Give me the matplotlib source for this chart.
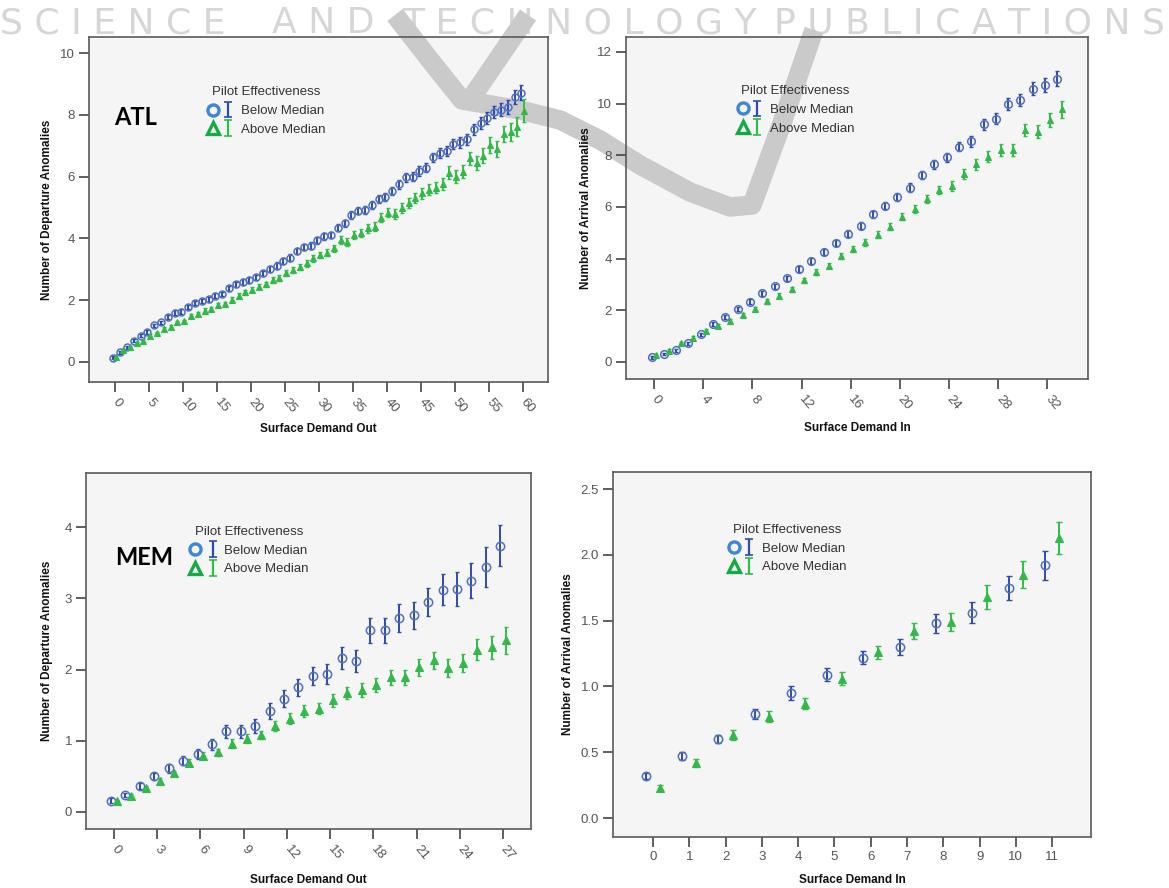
import numpy as np
import matplotlib.pyplot as plt
from matplotlib.lines import Line2D
from matplotlib.legend_handler import HandlerTuple, HandlerErrorbar
from matplotlib.container import ErrorbarContainer

plt.rcParams['font.family'] = ['Liberation Sans', 'DejaVu Sans']

W, H = 1169, 888

# ---- ATL, departures (Surface Demand Out) ----
atl_out_x = np.arange(61)
atl_out_below = [0.14, 0.31, 0.48, 0.68, 0.85, 0.98, 1.18, 1.28, 1.45, 1.60,
                 1.63, 1.77, 1.90, 1.98, 2.03, 2.15, 2.20, 2.38, 2.51, 2.58,
                 2.65, 2.74, 2.87, 3.01, 3.12, 3.26, 3.38, 3.59, 3.71, 3.76,
                 3.94, 4.07, 4.11, 4.35, 4.49, 4.76, 4.90, 4.92, 5.08, 5.27,
                 5.33, 5.53, 5.75, 5.98, 6.00, 6.18, 6.29, 6.62, 6.75, 6.83,
                 7.05, 7.11, 7.21, 7.53, 7.74, 7.89, 8.10, 8.16, 8.26, 8.57, 8.72]
atl_out_below_err = [0.04, 0.04, 0.05, 0.05, 0.05, 0.06, 0.06, 0.06, 0.06, 0.07,
                     0.07, 0.07, 0.07, 0.07, 0.08, 0.08, 0.08, 0.08, 0.08, 0.09,
                     0.09, 0.09, 0.09, 0.09, 0.10, 0.10, 0.10, 0.10, 0.10, 0.11,
                     0.11, 0.11, 0.11, 0.12, 0.12, 0.12, 0.12, 0.12, 0.13, 0.13,
                     0.13, 0.13, 0.14, 0.14, 0.14, 0.15, 0.15, 0.15, 0.16, 0.16,
                     0.17, 0.17, 0.18, 0.18, 0.19, 0.20, 0.20, 0.21, 0.22, 0.23, 0.25]
atl_out_above = [0.17, 0.37, 0.48, 0.60, 0.69, 0.84, 0.93, 1.06, 1.12, 1.28,
                 1.31, 1.49, 1.55, 1.66, 1.72, 1.84, 1.87, 2.01, 2.15, 2.25,
                 2.33, 2.44, 2.51, 2.65, 2.71, 2.87, 2.98, 3.08, 3.19, 3.36,
                 3.46, 3.54, 3.68, 3.95, 3.89, 4.11, 4.17, 4.33, 4.38, 4.67,
                 4.83, 4.79, 4.97, 5.14, 5.30, 5.46, 5.57, 5.64, 5.76, 6.13,
                 6.00, 6.16, 6.59, 6.45, 6.67, 7.02, 6.88, 7.38, 7.45, 7.62, 8.13]
atl_out_above_err = [0.04, 0.04, 0.04, 0.05, 0.05, 0.05, 0.05, 0.06, 0.06, 0.06,
                     0.06, 0.06, 0.07, 0.07, 0.07, 0.07, 0.07, 0.08, 0.08, 0.08,
                     0.08, 0.09, 0.09, 0.09, 0.09, 0.10, 0.10, 0.10, 0.11, 0.11,
                     0.11, 0.12, 0.12, 0.12, 0.13, 0.13, 0.13, 0.14, 0.14, 0.15,
                     0.15, 0.15, 0.16, 0.16, 0.17, 0.17, 0.18, 0.18, 0.19, 0.20,
                     0.20, 0.21, 0.22, 0.23, 0.24, 0.25, 0.26, 0.27, 0.29, 0.31, 0.37]

# ---- ATL, arrivals (Surface Demand In) ----
atl_in_x = np.arange(34)
atl_in_below = [0.18, 0.31, 0.46, 0.72, 1.07, 1.46, 1.75, 2.06, 2.33, 2.66,
                2.93, 3.24, 3.59, 3.90, 4.26, 4.61, 4.97, 5.27, 5.72, 6.05,
                6.40, 6.75, 7.24, 7.65, 7.92, 8.34, 8.54, 9.20, 9.42, 9.97,
                10.14, 10.57, 10.72, 10.96]
atl_in_below_err = [0.05, 0.05, 0.06, 0.06, 0.07, 0.07, 0.08, 0.08, 0.09, 0.09,
                    0.10, 0.10, 0.11, 0.11, 0.12, 0.12, 0.13, 0.13, 0.14, 0.14,
                    0.15, 0.16, 0.16, 0.17, 0.18, 0.19, 0.20, 0.21, 0.22, 0.23,
                    0.24, 0.25, 0.27, 0.29]
atl_in_above = [0.25, 0.44, 0.72, 0.94, 1.21, 1.41, 1.59, 1.83, 2.06, 2.35,
                2.57, 2.81, 3.16, 3.47, 3.73, 4.09, 4.36, 4.63, 4.93, 5.24,
                5.63, 5.91, 6.30, 6.66, 6.81, 7.28, 7.65, 7.94, 8.21, 8.21,
                8.98, 8.92, 9.37, 9.78]
atl_in_above_err = [0.04, 0.05, 0.05, 0.06, 0.06, 0.07, 0.07, 0.08, 0.08, 0.09,
                    0.09, 0.10, 0.10, 0.11, 0.11, 0.12, 0.12, 0.13, 0.13, 0.14,
                    0.15, 0.15, 0.16, 0.17, 0.18, 0.19, 0.20, 0.21, 0.22, 0.23,
                    0.25, 0.26, 0.28, 0.32]

# ---- MEM, departures ----
mem_out_x = np.arange(28)
mem_out_below = [0.16, 0.24, 0.36, 0.50, 0.61, 0.72, 0.82, 0.95, 1.13, 1.13,
                 1.21, 1.42, 1.59, 1.75, 1.91, 1.94, 2.16, 2.12, 2.55, 2.55,
                 2.72, 2.76, 2.95, 3.12, 3.13, 3.25, 3.44, 3.74]
mem_out_below_err = [0.03, 0.03, 0.04, 0.05, 0.06, 0.06, 0.07, 0.08, 0.09, 0.09,
                     0.10, 0.11, 0.12, 0.12, 0.13, 0.14, 0.15, 0.15, 0.18, 0.18,
                     0.20, 0.19, 0.20, 0.22, 0.24, 0.24, 0.28, 0.29]
mem_out_above = [0.15, 0.22, 0.33, 0.44, 0.54, 0.69, 0.79, 0.84, 0.96, 1.03,
                 1.08, 1.20, 1.31, 1.42, 1.45, 1.57, 1.67, 1.71, 1.78, 1.89,
                 1.89, 2.03, 2.13, 2.02, 2.09, 2.28, 2.31, 2.41]
mem_out_above_err = [0.02, 0.03, 0.03, 0.04, 0.04, 0.05, 0.05, 0.05, 0.06, 0.06,
                     0.06, 0.07, 0.08, 0.08, 0.08, 0.09, 0.09, 0.10, 0.10, 0.11,
                     0.11, 0.12, 0.12, 0.13, 0.13, 0.15, 0.16, 0.19]

# ---- MEM, arrivals ----
mem_in_x = np.arange(12)
mem_in_below = [0.32, 0.47, 0.60, 0.79, 0.95, 1.09, 1.22, 1.30, 1.48, 1.56, 1.75, 1.92]
mem_in_below_err = [0.02, 0.03, 0.03, 0.04, 0.05, 0.05, 0.05, 0.06, 0.07, 0.08, 0.09, 0.11]
mem_in_above = [0.23, 0.42, 0.63, 0.77, 0.87, 1.06, 1.26, 1.42, 1.49, 1.68, 1.85, 2.13]
mem_in_above_err = [0.02, 0.03, 0.04, 0.04, 0.04, 0.05, 0.05, 0.06, 0.07, 0.09, 0.10, 0.12]

watermark_words = ['SCIENCE', 'AND', 'TECHNOLOGY', 'PUBLICATIONS']

BLUE_PT = '#4f6fc6'
BLUE_BAR = '#2f4cad'
GREEN_PT = '#34b84a'
GREEN_BAR = '#2fbe47'
LEG_BLUE = '#3f86d8'
LEG_GREEN = '#16aa45'
TICK_GREY = '#555555'


def px_box(left, top, right, bottom):
    return [left / W, 1 - bottom / H, (right - left) / W, (bottom - top) / H]


def panel(ax, x, below, below_err, above, above_err, xlim, ylim, xticks, yticks,
          xlabel, ylabel, rotate, yfmt, ms, cap, leg_anchor, xlab_y, ylab_x, hpad=0.1):
    x = np.asarray(x)
    ax.set_facecolor('#f5f5f5')
    ax.errorbar(x - 0.2, below, yerr=below_err, fmt='none', ecolor=BLUE_BAR,
                elinewidth=1.4, capsize=cap, capthick=1.0, zorder=3)
    ax.plot(x - 0.2, below, ls='none', marker='o', ms=ms, mfc='none', mec=BLUE_PT,
            mew=1.1, zorder=4)
    ax.errorbar(x + 0.2, above, yerr=above_err, fmt='none', ecolor=GREEN_BAR,
                elinewidth=1.4, capsize=cap, capthick=1.0, zorder=3)
    ax.plot(x + 0.2, above, ls='none', marker='^', ms=ms * 0.9, mfc=GREEN_PT,
            mec=GREEN_PT, mew=0.8, zorder=4)

    # legend-only error bar glyphs (nothing drawn in the plot area)
    leg_eb_b = ax.errorbar([np.nan], [np.nan], yerr=[np.nan], fmt='none',
                           ecolor=BLUE_BAR, elinewidth=1.6, capsize=3, capthick=1.2)
    leg_eb_a = ax.errorbar([np.nan], [np.nan], yerr=[np.nan], fmt='none',
                           ecolor=GREEN_BAR, elinewidth=1.6, capsize=3, capthick=1.2)

    ax.set_xlim(*xlim)
    ax.set_ylim(*ylim)
    ax.set_xticks(xticks)
    if rotate:
        ax.set_xticklabels([str(t) for t in xticks], rotation=-50, ha='left',
                           va='center', rotation_mode='anchor')
    else:
        ax.set_xticklabels([str(t) for t in xticks])
    ax.set_yticks(yticks)
    ax.set_yticklabels([yfmt.format(t) for t in yticks])
    ax.tick_params(direction='out', length=7, width=1.2, color='#444444',
                   labelcolor=TICK_GREY, labelsize=9.5, pad=3)
    for s in ax.spines.values():
        s.set_color('#5a5a5a')
        s.set_linewidth(1.2)

    ax.set_xlabel(xlabel, fontsize=8.5, fontweight='bold', color='#111111')
    ax.set_ylabel(ylabel, fontsize=8.5, fontweight='bold', color='#111111')
    ax.xaxis.set_label_coords(0.5, xlab_y)
    ax.yaxis.set_label_coords(ylab_x, 0.5)

    h_b = Line2D([], [], ls='none', marker='o', ms=8, mfc='none', mec=LEG_BLUE, mew=2.4)
    h_a = Line2D([], [], ls='none', marker='^', ms=8, mfc='none', mec=LEG_GREEN, mew=2.4)
    leg = ax.legend([(h_b, leg_eb_b), (h_a, leg_eb_a)], ['Below Median', 'Above Median'],
                    title='Pilot Effectiveness', loc='upper left',
                    bbox_to_anchor=leg_anchor, frameon=False, fontsize=9.5,
                    title_fontsize=9.5, handlelength=2.1, handletextpad=0.5,
                    labelspacing=0.5, borderpad=0, borderaxespad=0,
                    handler_map={tuple: HandlerTuple(ndivide=None, pad=hpad),
                                 ErrorbarContainer: HandlerErrorbar(xerr_size=0.6)})
    for t in leg.get_texts():
        t.set_color('#333333')
    leg.get_title().set_color('#333333')
    return ax


fig = plt.figure(figsize=(W / 100, H / 100), dpi=100)

ax1 = fig.add_axes(px_box(89, 37, 548, 382))
panel(ax1, atl_out_x, atl_out_below, atl_out_below_err, atl_out_above, atl_out_above_err,
      (-3.8, 63.7), (-0.65, 10.52), list(range(0, 61, 5)), [0, 2, 4, 6, 8, 10],
      'Surface Demand Out', 'Number of Departure Anomalies', True, '{:d}', 5.0, 1.2,
      (0.256, 0.857), -0.118, -0.078)

ax2 = fig.add_axes(px_box(626, 37, 1088, 379))
panel(ax2, atl_in_x, atl_in_below, atl_in_below_err, atl_in_above, atl_in_above_err,
      (-2.28, 35.3), (-0.66, 12.58), list(range(0, 33, 4)), [0, 2, 4, 6, 8, 10, 12],
      'Surface Demand In', 'Number of Arrival Anomalies', True, '{:d}', 5.5, 1.2,
      (0.238, 0.859), -0.126, -0.074)

ax3 = fig.add_axes(px_box(86, 473, 531, 829))
panel(ax3, mem_out_x, mem_out_below, mem_out_below_err, mem_out_above, mem_out_above_err,
      (-1.94, 28.94), (-0.24, 4.76), list(range(0, 28, 3)), [0, 1, 2, 3, 4],
      'Surface Demand Out', 'Number of Departure Anomalies', True, '{:d}', 6.0, 1.5,
      (0.234, 0.852), -0.126, -0.074, hpad=0.5)

ax4 = fig.add_axes(px_box(613, 472, 1091, 837))
panel(ax4, mem_in_x, mem_in_below, mem_in_below_err, mem_in_above, mem_in_above_err,
      (-1.1, 12.07), (-0.144, 2.63), list(range(12)), [0.0, 0.5, 1.0, 1.5, 2.0, 2.5],
      'Surface Demand In', 'Number of Arrival Anomalies', False, '{:.1f}', 6.0, 2.0,
      (0.24, 0.858), -0.101, -0.082)

for ax in (ax1, ax2, ax3):
    for lab in ax.get_xticklabels():
        lab.set_y(-0.012)

# airport tags
fig.text(114 / W, 1 - 125 / H, 'ATL', fontsize=17, fontweight='bold',
         family=['Lato', 'DejaVu Sans'], va='baseline', zorder=5)
fig.text(115 / W, 1 - 565 / H, 'MEM', fontsize=17, fontweight='bold',
         family=['Lato', 'DejaVu Sans'], va='baseline', zorder=5)

# publisher watermark
for word, left in zip(watermark_words, [0, 272, 402, 774]):
    fig.text(left / W, 1 - 33 / H, ' '.join(word), ha='left', va='baseline',
             fontsize=26, color='#d6d6d6', family=['DejaVu Sans'], zorder=-2)

sw1 = [(395, 15), (430, 60), (462, 100), (520, 110), (560, 120), (600, 140),
       (640, 165), (690, 192), (730, 207), (752, 205), (782, 123), (814, 30)]
sw2 = [(528, 15), (470, 100)]
for pts in (sw1, sw2):
    xs = [p[0] / W for p in pts]
    ys = [1 - p[1] / H for p in pts]
    fig.add_artist(Line2D(xs, ys, transform=fig.transFigure, color='#cacaca',
                          lw=14, solid_joinstyle='round', solid_capstyle='butt',
                          zorder=-1))
    for ax in (ax1, ax2):
        ax.add_line(Line2D(xs, ys, transform=fig.transFigure, color='#cacaca',
                           lw=14, solid_joinstyle='round', solid_capstyle='butt',
                           zorder=1))

fig.savefig('out.png', dpi=100)
